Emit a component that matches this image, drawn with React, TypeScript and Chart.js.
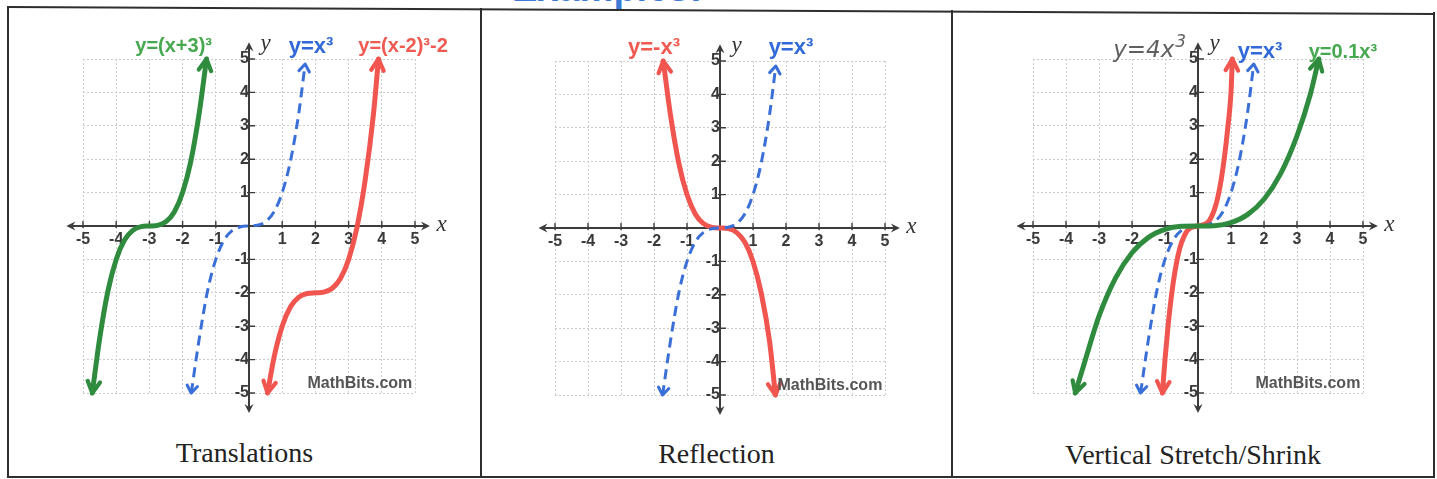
import React, { useEffect, useRef } from "react";
import { Chart, registerables } from "chart.js";

Chart.register(...registerables);

// ---------- values ----------
const AXIS_MIN = -5;
const AXIS_MAX = 5;
const AXIS_REACH = 5.5; // axis arrows run a little past the grid

// y = x³ (dashed parent curve)
const parentX = [-1.74, -1.5, -1.25, -1, -0.75, -0.5, -0.25, 0, 0.25, 0.5, 0.75, 1, 1.25, 1.5, 1.69];
const parentY = [-5, -3.38, -1.95, -1, -0.42, -0.13, -0.02, 0, 0.02, 0.13, 0.42, 1, 1.95, 3.38, 4.85];

// y = (x+3)³
const leftShiftX = [-4.72, -4.5, -4.25, -4, -3.75, -3.5, -3.25, -3, -2.75, -2.5, -2.25, -2, -1.75, -1.5, -1.28];
const leftShiftY = [-5, -3.38, -1.95, -1, -0.42, -0.13, -0.02, 0, 0.02, 0.13, 0.42, 1, 1.95, 3.38, 5];

// y = (x-2)³ - 2
const shiftedX = [0.56, 0.75, 1, 1.25, 1.5, 1.75, 2, 2.25, 2.5, 2.75, 3, 3.25, 3.5, 3.75, 3.9];
const shiftedY = [-5, -3.95, -3, -2.42, -2.13, -2.02, -2, -1.98, -1.87, -1.58, -1, -0.05, 1.38, 3.36, 5];

// y = -x³
const mirrorX = [-1.72, -1.5, -1.25, -1, -0.75, -0.5, -0.25, 0, 0.25, 0.5, 0.75, 1, 1.25, 1.5, 1.68];
const mirrorY = [5, 3.38, 1.95, 1, 0.42, 0.13, 0.02, 0, -0.02, -0.13, -0.42, -1, -1.95, -3.38, -5];

// y = 4x³
const stretchX = [-1.08, -1, -0.9, -0.8, -0.7, -0.6, -0.5, -0.3, 0, 0.3, 0.5, 0.6, 0.7, 0.8, 0.9, 1, 1.04];
const stretchY = [-5, -4, -2.92, -2.05, -1.37, -0.86, -0.5, -0.11, 0, 0.11, 0.5, 0.86, 1.37, 2.05, 2.92, 4, 5];

// y = 0.1x³
const shrinkX = [-3.72, -3.5, -3, -2.5, -2, -1.5, -1, -0.5, 0, 0.5, 1, 1.5, 2, 2.5, 3, 3.4, 3.66];
const shrinkY = [-5, -4.29, -2.7, -1.56, -0.8, -0.34, -0.1, -0.01, 0, 0.01, 0.1, 0.34, 0.8, 1.56, 2.7, 3.93, 5];

const captions = ["Translations", "Reflection", "Vertical Stretch/Shrink"];

// ---------- styling ----------
const GREEN = "#2f8c3e";
const RED = "#f0564f";
const BLUE = "#3b6fd8";
const GREEN_TEXT = "#47a94f";
const RED_TEXT = "#f05a50";
const BLUE_TEXT = "#3169d9";
const AXIS = "#3c3c3c";
const LABEL_FONT = '"Liberation Sans", Arial, sans-serif';

type Curve = { xs: number[]; ys: number[]; color: string; dashed?: boolean };
type Note = {
  text: string;
  x: number;
  y: number;
  color: string;
  font: string;
  align?: CanvasTextAlign;
  sup?: string;
  supFont?: string;
};

const zip = (xs: number[], ys: number[]) => xs.map((x, i) => ({ x, y: ys[i] }));

function curveDataset(c: Curve) {
  return {
    data: zip(c.xs, c.ys),
    borderColor: c.color,
    borderWidth: c.dashed ? 3 : 5,
    borderDash: c.dashed ? [10, 6] : [],
    borderCapStyle: c.dashed ? "butt" : "round",
    borderJoinStyle: "round",
    cubicInterpolationMode: "monotone",
    pointRadius: 0,
    clip: false,
    fill: false,
    arrow: c.dashed ? { len: 9, spread: 0.62, width: 3 } : { len: 13, spread: 0.5, width: 4.2 },
  };
}

const boldLabel = (size: number) => `bold ${size}px ${LABEL_FONT}`;
const axisLetter = 'italic 23px "Liberation Serif", "Times New Roman", serif';
const watermark = `bold 16px ${LABEL_FONT}`;

const panels = [
  {
    left: 9,
    top: 14,
    areaWidth: 332,
    cell: [8, 481],
    curves: [
      { xs: leftShiftX, ys: leftShiftY, color: GREEN },
      { xs: parentX, ys: parentY, color: BLUE, dashed: true },
      { xs: shiftedX, ys: shiftedY, color: RED },
    ] as Curve[],
    notes: [
      { text: "y=(x+3)³", x: -2.27, y: 5.36, color: GREEN_TEXT, font: boldLabel(20) },
      { text: "y=x³", x: 1.87, y: 5.36, color: BLUE_TEXT, font: boldLabel(22) },
      { text: "y=(x-2)³-2", x: 4.64, y: 5.36, color: RED_TEXT, font: boldLabel(20) },
    ] as Note[],
  },
  {
    left: 481,
    top: 16,
    areaWidth: 330,
    cell: [481, 952],
    curves: [
      { xs: parentX, ys: parentY, color: BLUE, dashed: true },
      { xs: mirrorX, ys: mirrorY, color: RED },
    ] as Curve[],
    notes: [
      { text: "y=-x³", x: -2.0, y: 5.39, color: RED_TEXT, font: boldLabel(22) },
      { text: "y=x³", x: 2.15, y: 5.39, color: BLUE_TEXT, font: boldLabel(22) },
    ] as Note[],
  },
  {
    left: 959,
    top: 14,
    areaWidth: 330,
    cell: [952, 1434],
    curves: [
      { xs: shrinkX, ys: shrinkY, color: GREEN },
      { xs: parentX, ys: parentY, color: BLUE, dashed: true },
      { xs: stretchX, ys: stretchY, color: RED },
    ] as Curve[],
    notes: [
      {
        text: "y=4x",
        sup: "3",
        x: -1.48,
        y: 5.25,
        color: "#606060",
        font: 'italic 200 23px "DejaVu Sans", sans-serif',
        supFont: 'italic 200 17px "DejaVu Sans", sans-serif',
      },
      { text: "y=x³", x: 1.88, y: 5.2, color: BLUE_TEXT, font: boldLabel(22) },
      { text: "y=0.1x³", x: 4.39, y: 5.2, color: GREEN_TEXT, font: boldLabel(20) },
    ] as Note[],
  },
];

const CANVAS_W = 470;
const CANVAS_H = 420;
const PAD_LEFT = 74;
const PAD_TOP = 45;
const AREA_H = 334;

// ---------- plugins ----------
const centeredAxes = {
  id: "centeredAxes",
  beforeDatasetsDraw(chart: any) {
    const { ctx, scales } = chart;
    const sx = scales.x;
    const sy = scales.y;
    const x0 = sx.getPixelForValue(0);
    const y0 = sy.getPixelForValue(0);
    const xl = sx.getPixelForValue(-AXIS_REACH);
    const xr = sx.getPixelForValue(AXIS_REACH - 0.05);
    const yt = sy.getPixelForValue(AXIS_REACH);
    const yb = sy.getPixelForValue(-AXIS_REACH - 0.1);

    ctx.save();
    ctx.strokeStyle = AXIS;
    ctx.fillStyle = AXIS;
    ctx.lineWidth = 2;
    ctx.setLineDash([]);
    ctx.beginPath();
    ctx.moveTo(xl + 2, y0);
    ctx.lineTo(xr - 2, y0);
    ctx.moveTo(x0, yt + 2);
    ctx.lineTo(x0, yb - 2);
    ctx.stroke();

    const head = (tx: number, ty: number, ang: number) => {
      const len = 9;
      const half = 4.5;
      const c = Math.cos(ang);
      const s = Math.sin(ang);
      ctx.beginPath();
      ctx.moveTo(tx, ty);
      ctx.lineTo(tx - len * c + half * s, ty - len * s - half * c);
      ctx.lineTo(tx - (len - 3) * c, ty - (len - 3) * s);
      ctx.lineTo(tx - len * c - half * s, ty - len * s + half * c);
      ctx.closePath();
      ctx.fill();
    };
    head(xr, y0, 0);
    head(xl, y0, Math.PI);
    head(x0, yt, -Math.PI / 2);
    head(x0, yb, Math.PI / 2);

    ctx.lineWidth = 1.4;
    ctx.beginPath();
    for (let v = AXIS_MIN; v <= AXIS_MAX; v++) {
      if (v === 0) continue;
      const px = sx.getPixelForValue(v);
      ctx.moveTo(px, y0 - 5);
      ctx.lineTo(px, y0 + 2);
      const py = sy.getPixelForValue(v);
      ctx.moveTo(x0 - 2, py);
      ctx.lineTo(x0 + 6, py);
    }
    ctx.stroke();
    ctx.restore();
  },
};

const arrowHeads = {
  id: "arrowHeads",
  afterDatasetsDraw(chart: any) {
    const { ctx } = chart;
    chart.data.datasets.forEach((ds: any, i: number) => {
      const pts = chart.getDatasetMeta(i).data;
      const n = pts.length;
      if (n < 2 || !ds.arrow) return;
      const a = ds.arrow;
      ctx.save();
      ctx.strokeStyle = ds.borderColor;
      ctx.lineWidth = a.width;
      ctx.lineCap = "round";
      ctx.lineJoin = "round";
      ctx.setLineDash([]);
      const ends = [
        [pts[0], pts[1]],
        [pts[n - 1], pts[n - 2]],
      ];
      for (const [tip, prev] of ends) {
        const ang = Math.atan2(tip.y - prev.y, tip.x - prev.x);
        ctx.beginPath();
        ctx.moveTo(tip.x - a.len * Math.cos(ang - a.spread), tip.y - a.len * Math.sin(ang - a.spread));
        ctx.lineTo(tip.x, tip.y);
        ctx.lineTo(tip.x - a.len * Math.cos(ang + a.spread), tip.y - a.len * Math.sin(ang + a.spread));
        ctx.stroke();
      }
      ctx.restore();
    });
  },
};

const annotations = {
  id: "annotations",
  afterDraw(chart: any, _args: any, opts: any) {
    const { ctx, scales } = chart;
    const sx = scales.x;
    const sy = scales.y;
    ctx.save();
    ctx.textBaseline = "middle";

    // axis names
    ctx.font = axisLetter;
    ctx.fillStyle = "#333";
    ctx.textAlign = "center";
    ctx.fillText("x", sx.getPixelForValue(5.8), sy.getPixelForValue(0) - 1);
    ctx.fillText("y", sx.getPixelForValue(0.5), sy.getPixelForValue(5.45));

    // watermark
    ctx.font = watermark;
    ctx.fillStyle = "#555";
    ctx.textAlign = "right";
    ctx.fillText("MathBits.com", sx.getPixelForValue(4.92), sy.getPixelForValue(-4.72));

    // curve names
    for (const n of opts.notes as Note[]) {
      ctx.font = n.font;
      ctx.fillStyle = n.color;
      const px = sx.getPixelForValue(n.x);
      const py = sy.getPixelForValue(n.y);
      if (n.sup) {
        const w = ctx.measureText(n.text).width;
        ctx.font = n.supFont || n.font;
        const ws = ctx.measureText(n.sup).width;
        const start = px - (w + ws) / 2;
        ctx.textAlign = "left";
        ctx.font = n.font;
        ctx.fillText(n.text, start, py);
        ctx.font = n.supFont || n.font;
        ctx.fillText(n.sup, start + w + 1, py - 8);
      } else {
        ctx.textAlign = n.align || "center";
        ctx.fillText(n.text, px, py);
      }
    }
    ctx.restore();
  },
};

function buildConfig(p: (typeof panels)[number]): any {
  const tickFont = { family: LABEL_FONT, size: 16, weight: "bold" as const };
  const common = {
    type: "linear",
    min: AXIS_MIN,
    max: AXIS_MAX,
    grid: { color: "#cdcdcd", lineWidth: 1, drawTicks: false },
    border: { display: false, dash: [2, 2] },
  };
  return {
    type: "line",
    data: { datasets: p.curves.map(curveDataset) },
    options: {
      animation: false,
      responsive: false,
      events: [],
      layout: {
        padding: {
          left: PAD_LEFT,
          top: PAD_TOP,
          right: CANVAS_W - PAD_LEFT - p.areaWidth,
          bottom: CANVAS_H - PAD_TOP - AREA_H,
        },
      },
      scales: {
        x: {
          ...common,
          position: { y: 0 },
          ticks: {
            stepSize: 1,
            autoSkip: false,
            maxRotation: 0,
            padding: 4,
            color: "#3a3a3a",
            font: tickFont,
            callback: (v: number) => (v === 0 ? "" : String(v)),
          },
        },
        y: {
          ...common,
          position: { x: 0 },
          ticks: {
            stepSize: 1,
            autoSkip: false,
            padding: 3,
            color: "#3a3a3a",
            font: tickFont,
            callback: (v: number) => (v === 0 ? "" : String(v)),
          },
        },
      },
      plugins: {
        legend: { display: false },
        tooltip: { enabled: false },
        annotations: { notes: p.notes },
      },
    },
    plugins: [centeredAxes, arrowHeads, annotations],
  };
}

function Graph({ panel }: { panel: (typeof panels)[number] }) {
  const ref = useRef<HTMLCanvasElement>(null);
  useEffect(() => {
    if (!ref.current) return;
    const chart = new Chart(ref.current, buildConfig(panel));
    return () => chart.destroy();
  }, [panel]);
  return (
    <canvas
      ref={ref}
      width={CANVAS_W}
      height={CANVAS_H}
      style={{ position: "absolute", left: panel.left, top: panel.top, width: CANVAS_W, height: CANVAS_H }}
    />
  );
}

const line = (style: React.CSSProperties): React.CSSProperties => ({
  position: "absolute",
  background: "#2e2e2e",
  ...style,
});

export default function App() {
  return (
    <div
      style={{
        position: "fixed",
        left: 0,
        top: 0,
        width: 1437,
        height: 479,
        background: "#fff",
        overflow: "hidden",
      }}
    >
      <div
        style={{
          position: "absolute",
          left: 512,
          top: -31,
          font: `bold 38px ${LABEL_FONT}`,
          lineHeight: "38px",
          color: "#3d7bd6",
          whiteSpace: "nowrap",
        }}
      >
        Examples:
      </div>

      {panels.map((p, i) => (
        <Graph key={i} panel={p} />
      ))}

      {panels.map((p, i) => (
        <div
          key={"c" + i}
          style={{
            position: "absolute",
            left: p.cell[0],
            width: p.cell[1] - p.cell[0],
            top: 439 + i,
            textAlign: "center",
            font: '28px "Liberation Serif", "Times New Roman", serif',
            lineHeight: "28px",
            color: "#222",
            whiteSpace: "nowrap",
          }}
        >
          {captions[i]}
        </div>
      ))}

      {/* table frame */}
      <div
        style={line({
          left: 7,
          top: 6,
          width: 1428,
          height: 2,
          transformOrigin: "0 0",
          transform: `rotate(${Math.atan2(7, 1428)}rad)`,
        })}
      />
      <div style={line({ left: 7, top: 476, width: 1428, height: 2 })} />
      <div style={line({ left: 7, top: 6, width: 2, height: 472 })} />
      <div style={line({ left: 480, top: 8, width: 2, height: 470 })} />
      <div style={line({ left: 951, top: 10, width: 2, height: 468 })} />
      <div style={line({ left: 1433, top: 12, width: 2, height: 466 })} />
    </div>
  );
}
